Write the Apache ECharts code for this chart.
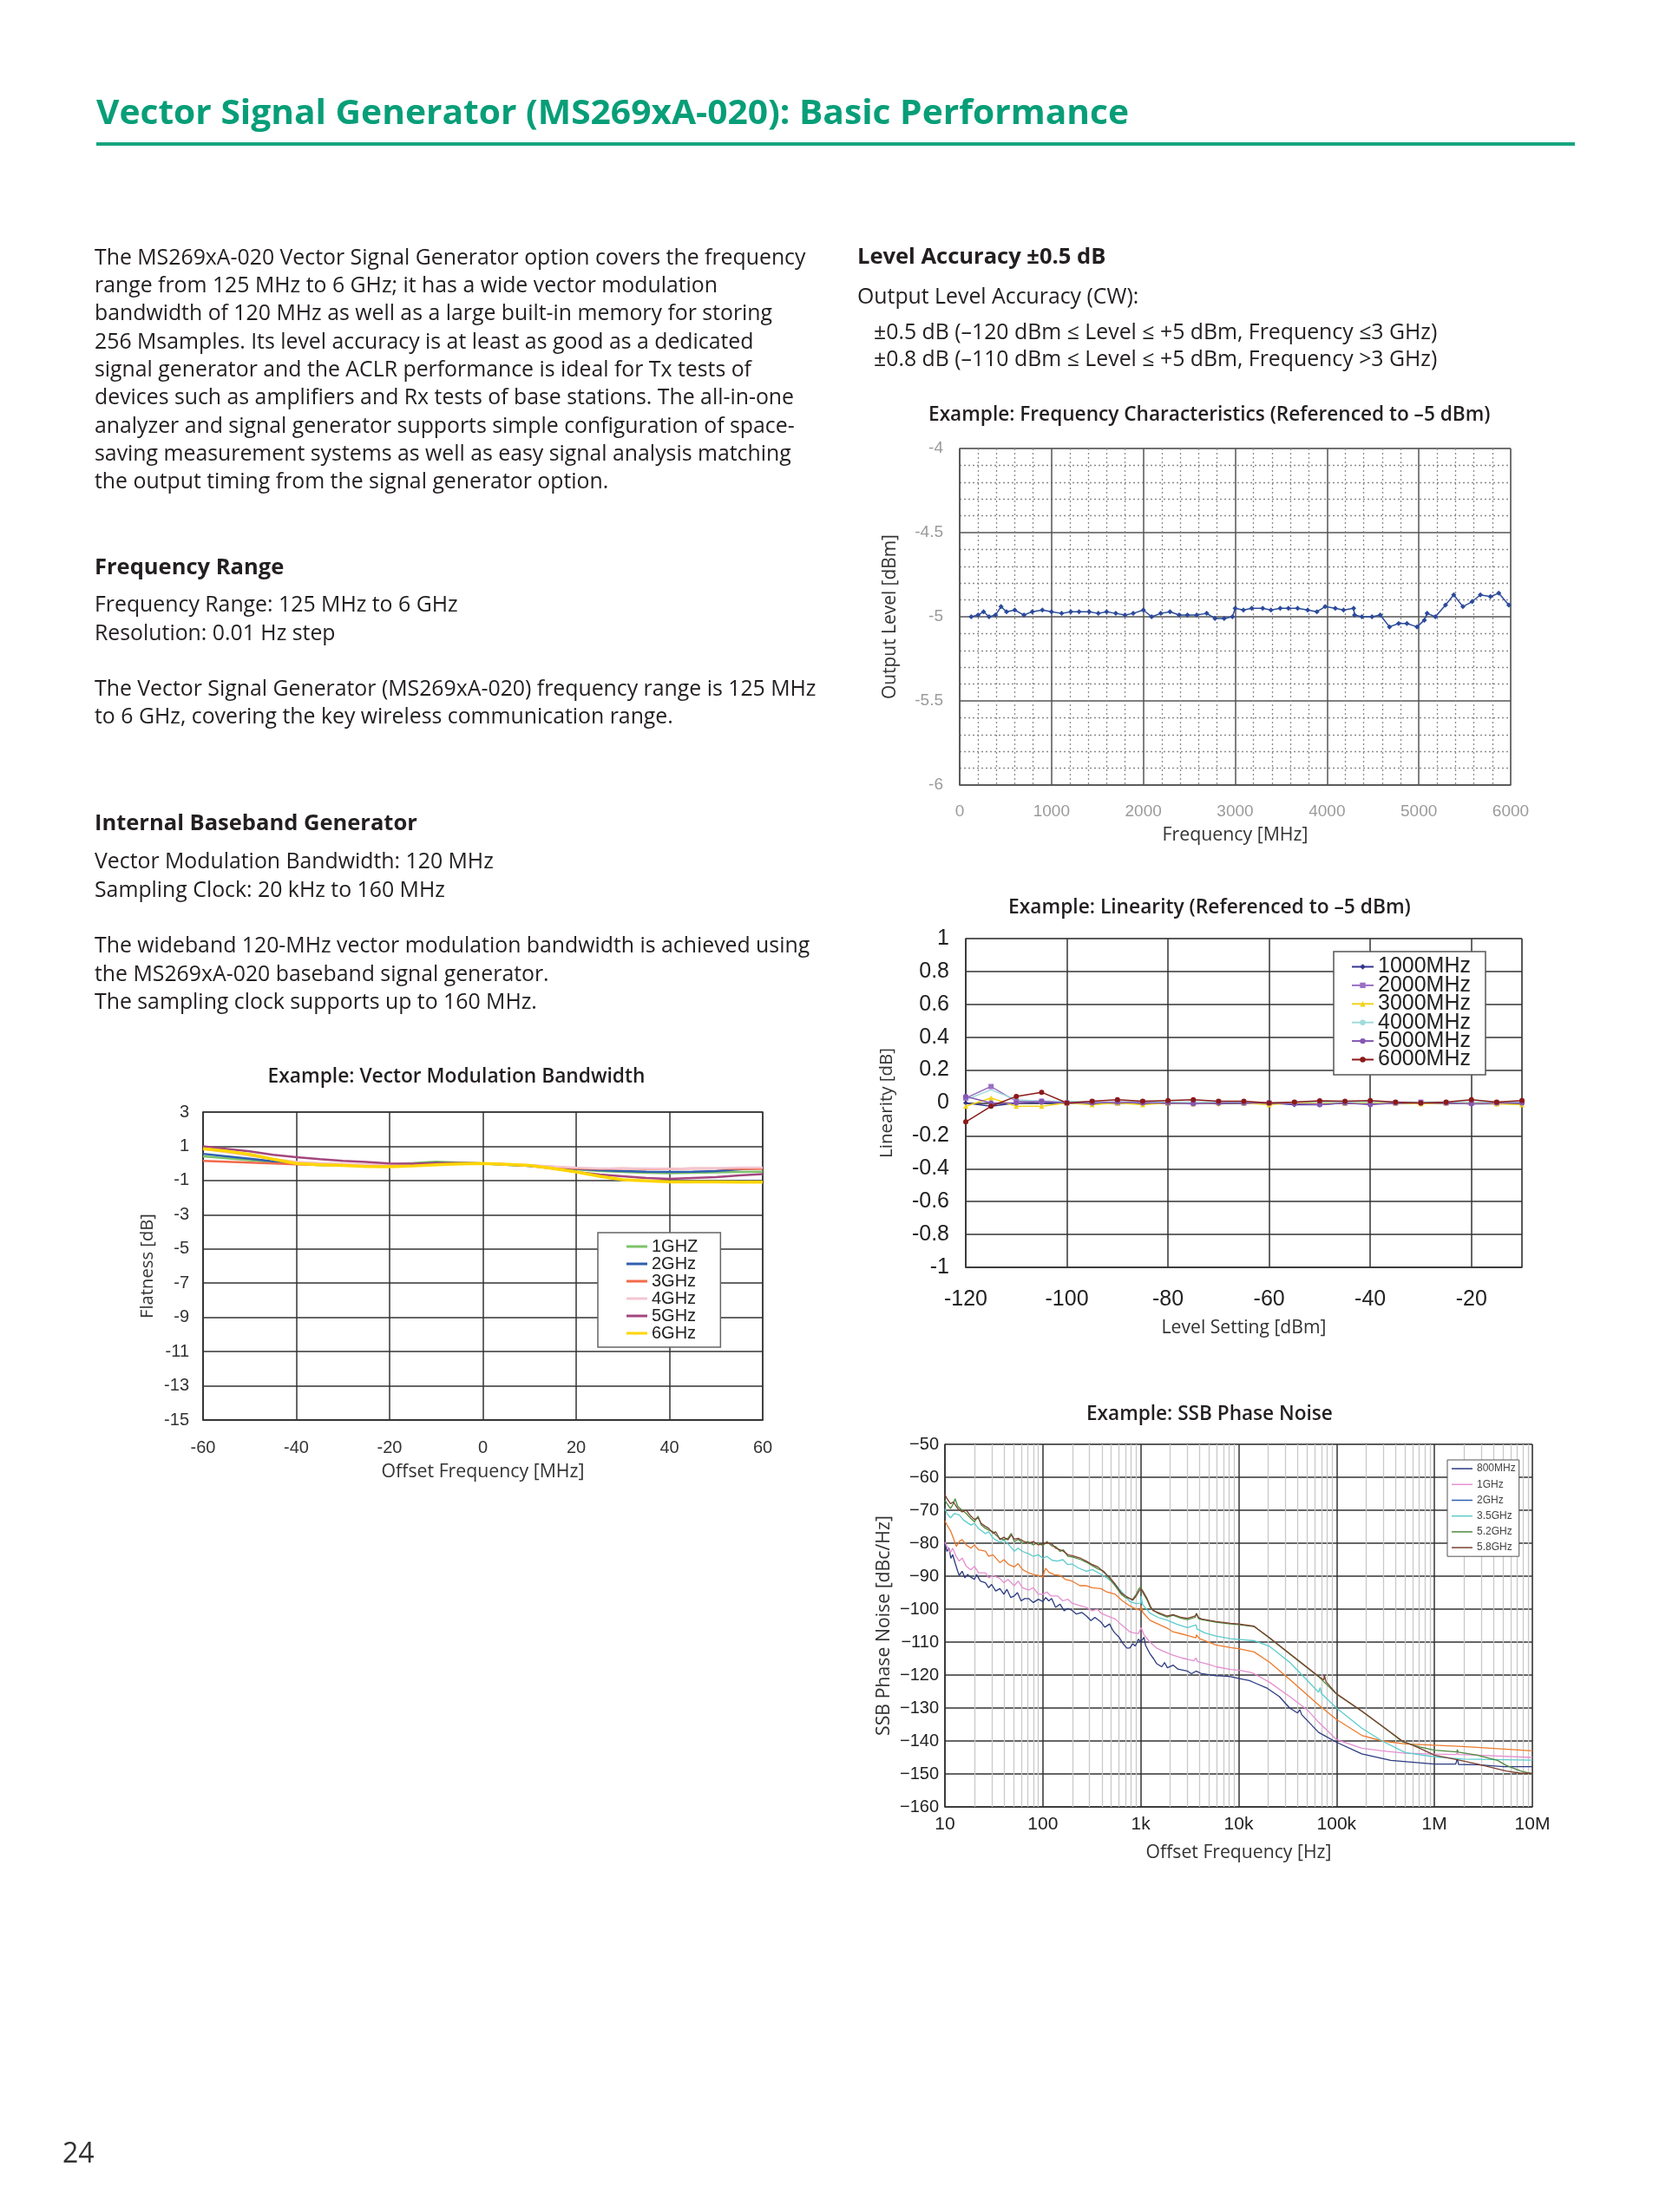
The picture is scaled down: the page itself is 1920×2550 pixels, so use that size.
<!DOCTYPE html>
<html><head><meta charset="utf-8">
<script src="https://cdn.jsdelivr.net/npm/echarts@6/dist/echarts.min.js"></script>
<style>
html,body{margin:0;padding:0;background:#fff;}
#page{position:relative;width:1920px;height:2550px;overflow:hidden;background:#fff;}
#chart{position:absolute;left:0;top:0;width:1920px;height:2550px;}
.t{position:absolute;white-space:nowrap;font-family:'Open Sans',sans-serif;color:#231f20;}
</style></head><body>
<div id="page"><div id="chart"></div><div id="text"></div></div>
<script>
// ---------------- DATA ----------------
// Frequency characteristics (MHz, dBm)
const freqX = [125,200,260,320,390,450,510,600,700,790,900,1000,1110,1210,1300,1410,1510,1600,1700,1800,1890,2000,2090,2190,2290,2390,2480,2580,2690,2780,2880,2970,3000,3090,3180,3300,3390,3490,3580,3680,3790,3890,3980,4090,4180,4290,4300,4380,4490,4580,4680,4780,4870,4980,5060,5090,5180,5290,5380,5480,5580,5670,5780,5870,5980];
const freqY = [-5.00,-4.99,-4.97,-5.00,-4.99,-4.94,-4.97,-4.96,-4.99,-4.97,-4.96,-4.97,-4.98,-4.97,-4.97,-4.97,-4.98,-4.97,-4.98,-4.99,-4.98,-4.96,-5.00,-4.98,-4.97,-4.99,-4.99,-4.99,-4.98,-5.01,-5.01,-5.00,-4.95,-4.96,-4.95,-4.95,-4.96,-4.95,-4.95,-4.95,-4.96,-4.97,-4.94,-4.95,-4.96,-4.95,-4.99,-5.00,-5.00,-4.99,-5.06,-5.04,-5.04,-5.06,-5.02,-4.98,-5.00,-4.93,-4.87,-4.94,-4.91,-4.87,-4.88,-4.86,-4.93];

// Linearity (dBm, dB)
const linX = [-120,-115,-110,-105,-100,-95,-90,-85,-80,-75,-70,-65,-60,-55,-50,-45,-40,-35,-30,-25,-20,-15,-10];
const linNames = ['1000MHz','2000MHz','3000MHz','4000MHz','5000MHz','6000MHz'];
const lin1000 = [0,-0.02,0,0,0,-0.005,0.005,-0.005,0,0,-0.005,0,0,-0.01,-0.01,0,-0.005,0,0,0,-0.005,-0.005,0];
const lin2000 = [0.03,0.10,0.01,0.01,0,0.005,0,0.005,0,0,0.005,0,0,0,-0.005,0,0,0,0.005,0,0,0,0.005];
const lin3000 = [-0.02,0.03,-0.02,-0.02,0,-0.01,0,-0.01,0,-0.005,0,0,-0.01,0,0,0,0,0,-0.005,0,0,-0.005,-0.01];
const lin4000 = [0.02,0.08,0.02,0.01,0.01,0.005,0.005,0.01,0.005,0.005,0.005,0.005,0,0.005,0.005,0.005,0.005,0.005,0.005,0.005,0.005,0.005,0.005];
const lin5000 = [0.04,0.0,0.0,0.01,0,0,0.005,0,0,-0.005,0,0,0,-0.005,-0.01,0,-0.01,0,0,0,-0.005,0,0];
const lin6000 = [-0.115,-0.02,0.04,0.065,0,0.01,0.02,0.01,0.015,0.02,0.01,0.01,0,0.005,0.013,0.01,0.015,0.005,0,0.005,0.02,0.005,0.015];

// Vector modulation bandwidth (MHz, dB)
const vecX = [-60,-55,-50,-45,-40,-35,-30,-25,-20,-15,-10,-5,0,5,10,15,20,25,30,35,40,45,50,55,60];
const vecNames = ['1GHZ','2GHz','3GHz','4GHz','5GHz','6GHz'];
const vec1 = [0.41,0.30,0.19,0.08,-0.02,-0.10,-0.12,-0.10,-0.05,0.02,0.10,0.05,0,-0.08,-0.15,-0.25,-0.35,-0.45,-0.50,-0.55,-0.57,-0.55,-0.52,-0.50,-0.48];
const vec2 = [0.56,0.42,0.27,0.12,-0.02,-0.08,-0.10,-0.10,-0.08,-0.02,0.02,0.02,0,-0.08,-0.15,-0.25,-0.32,-0.40,-0.45,-0.48,-0.50,-0.48,-0.45,-0.35,-0.27];
const vec3 = [0.15,0.10,0.05,0.00,-0.05,-0.08,-0.07,-0.08,-0.10,-0.05,0.00,0.02,0,-0.05,-0.12,-0.20,-0.30,-0.32,-0.30,-0.32,-0.32,-0.30,-0.30,-0.32,-0.32];
const vec4 = [0.86,0.65,0.45,0.25,0.10,0.02,-0.02,-0.05,-0.05,-0.02,0,0,0,-0.05,-0.10,-0.18,-0.25,-0.30,-0.30,-0.30,-0.32,-0.30,-0.28,-0.25,-0.25];
const vec5 = [1.00,0.85,0.70,0.50,0.36,0.25,0.15,0.08,0.00,-0.02,0.02,0.00,0,-0.05,-0.15,-0.30,-0.50,-0.65,-0.75,-0.85,-0.90,-0.85,-0.80,-0.70,-0.63];
const vec6 = [0.86,0.72,0.53,0.25,0.00,-0.08,-0.12,-0.18,-0.20,-0.15,-0.08,-0.03,0,-0.05,-0.12,-0.30,-0.50,-0.75,-0.95,-1.02,-1.08,-1.08,-1.08,-1.10,-1.10];

// SSB phase noise ([Hz, dBc/Hz])
const pnNames = ['800MHz','1GHz','2GHz','3.5GHz','5.2GHz','5.8GHz'];
const pnTickLabels = ['10','100','1k','10k','100k','1M','10M'];
const pn800 = [[10,-80],[10.5,-82.5],[11,-81.5],[11.5,-84.6],[12,-83.5],[12.7,-86],[13.5,-88.5],[14,-89.8],[15,-88.5],[16,-90.5],[17,-89.5],[18.4,-90.3],[20,-91],[21,-89.5],[23,-91.5],[25.9,-92],[28,-93.5],[30,-92.5],[33,-94.5],[36.4,-93.8],[40,-95.5],[43,-94],[47,-96.5],[51,-96],[55,-95],[60,-97.5],[65,-96.8],[71.6,-96.8],[80,-98],[90,-97],[100,-97.7],[107,-96.5],[115,-97.5],[123,-96.8],[135,-99.5],[150,-98.5],[165,-100.5],[180,-99.8],[199,-100.4],[220,-101.5],[250,-101],[279,-102.1],[310,-103.5],[340,-102.5],[392,-103.9],[430,-105.5],[480,-104.5],[520,-106.5],[550,-107.4],[600,-108.5],[660,-110.5],[720,-111.8],[773,-111.8],[830,-110.5],[880,-111.2],[949,-109.1],[1000,-110],[1080,-108.5],[1120,-111],[1240,-113.5],[1350,-115],[1450,-116.5],[1640,-117.5],[1750,-116.2],[1870,-117.8],[2140,-117],[2400,-118.2],[2700,-118.5],[3000,-118.8],[3300,-119.6],[3670,-118.8],[4200,-119.6],[5000,-119.9],[5900,-120.2],[7000,-120.3],[8300,-120.5],[10000,-121],[12900,-121.7],[14400,-122.3],[19300,-123.9],[26000,-126.5],[33200,-130],[40000,-131.5],[42200,-130.5],[44000,-132],[65600,-137.4],[100000,-140.4],[181000,-143.9],[358000,-145.9],[1000000,-147],[1650000,-147],[1710000,-145.3],[1760000,-147.1],[2750000,-147.2],[5100000,-147.8],[10000000,-147.8]];
const pn1G = [[10,-79.7],[10.5,-81],[11.4,-82.8],[12,-81.5],[13,-84],[14,-85.4],[15,-84.5],[16.5,-87],[18.4,-88.1],[20,-87],[22,-89],[25.9,-89],[28,-90.5],[31,-89.8],[36.4,-90.7],[40,-92],[44,-91],[51,-92.9],[56,-91.5],[62,-93.5],[71.6,-94.2],[80,-93.5],[90,-95.5],[100,-95.5],[110,-94.8],[120,-96],[141,-96],[160,-97.5],[180,-97],[199,-98.2],[230,-98.8],[279,-99.5],[320,-100.5],[360,-100],[392,-101.2],[450,-102],[550,-103],[620,-104.5],[700,-105.8],[773,-106.9],[850,-107.2],[949,-107.4],[1010,-105.6],[1080,-107.8],[1240,-110],[1450,-111.8],[1700,-112.8],[2140,-114],[2600,-114.8],[3000,-115.2],[3500,-115.7],[3670,-114.8],[3800,-115.9],[5000,-116.8],[5900,-117.5],[8300,-118.3],[10000,-118.5],[12900,-119.1],[14400,-119.6],[20700,-122.2],[33200,-126.5],[50000,-130.5],[65600,-134.3],[100000,-139.6],[181000,-142.2],[292000,-143],[503000,-143.7],[1000000,-144],[1680000,-144.1],[1710000,-143.4],[1750000,-144.1],[2750000,-144.3],[10000000,-145]];
const pn2G = [[10,-73.2],[10.5,-74.5],[11.4,-76.2],[12.2,-78.5],[13.1,-81],[14,-79.5],[15,-78.9],[16.5,-80.5],[18.4,-81.5],[20,-80.5],[22,-82],[25.9,-82.4],[28,-84],[31,-83.5],[36.4,-85.9],[40,-85],[45,-86.5],[51.1,-87.2],[56,-86.2],[62,-88],[71.6,-89],[80,-89.5],[90,-89.8],[100,-90.3],[104,-88.5],[107,-87.6],[115,-88.8],[130,-89.5],[150,-89.8],[170,-91],[199,-91.5],[240,-92.9],[279,-92.9],[320,-93.5],[392,-93.8],[450,-94.8],[550,-95.5],[650,-97.5],[773,-99],[870,-99.8],[1000,-100.4],[1010,-99],[1050,-101],[1240,-103.4],[1500,-104.5],[1870,-105.8],[2140,-106.9],[2600,-107.5],[3000,-108],[3670,-108.7],[3700,-107.8],[4000,-109],[5900,-110.9],[8300,-111.7],[10000,-112],[14400,-113],[20700,-116.1],[33200,-121.3],[65600,-129.1],[100000,-133.5],[181000,-138.3],[292000,-140],[503000,-140.9],[1000000,-141.3],[1960000,-141.7],[10000000,-143]];
const pn35G = [[10,-69.6],[10.5,-71],[11.4,-72.3],[12.5,-71],[14,-71.4],[15.5,-73],[18.4,-74.5],[20,-74],[22,-75.5],[25.9,-77.1],[28,-76.5],[31,-78.5],[36.4,-79.7],[40,-79],[45,-80.5],[51.1,-82.4],[56,-81.5],[62,-82.5],[71.6,-83.2],[80,-84],[90,-83.5],[100,-84.6],[110,-84],[125,-85.2],[141,-85.4],[160,-85],[180,-86.5],[199,-86.3],[230,-87.5],[279,-88.5],[320,-88],[392,-89.4],[450,-90.5],[550,-92.5],[650,-95],[773,-97.7],[900,-98.3],[1000,-98.2],[1010,-96],[1040,-98.5],[1240,-101.2],[1500,-102.5],[1870,-103.4],[2300,-104.5],[3000,-105.6],[3670,-104.8],[3750,-106],[4500,-107.2],[5900,-108.2],[8300,-109],[10000,-109.2],[14400,-109.6],[20700,-111.3],[33200,-116.1],[60000,-124],[65600,-125.2],[68000,-123.8],[70000,-125.6],[100000,-130],[181000,-136.1],[292000,-140],[503000,-143.5],[1000000,-144.8],[1960000,-145.5],[10000000,-145.8]];
const pn52G = [[10,-67],[10.5,-68],[11.4,-69.5],[12.2,-68],[12.7,-66.5],[13.5,-68.8],[15,-70],[16.5,-71],[18.4,-72.5],[20,-73.5],[21.8,-71.8],[23.5,-74.5],[25.9,-75.5],[28,-76],[31,-76.5],[33,-77.5],[36.4,-78.5],[40,-79],[44,-78.5],[47.7,-77],[51,-79.5],[56,-78.8],[62.6,-80],[70,-79.5],[80,-80.5],[90,-79.8],[100,-80.8],[110,-79.5],[123,-80.8],[135,-81],[150,-82.5],[162,-82],[180,-84],[200,-84.2],[244,-85],[280,-85.8],[320,-86.8],[366,-87.8],[420,-88.5],[480,-90.8],[550,-93],[632,-95.5],[700,-96.5],[826,-97],[900,-95.5],[949,-94],[1000,-93.2],[1050,-95],[1160,-97.2],[1250,-99.5],[1330,-100.2],[1500,-101.3],[1860,-102.4],[2140,-101.9],[2600,-102.8],[3000,-103.2],[3600,-102.5],[3700,-101.2],[3900,-102.9],[4200,-103.2],[5900,-104],[8300,-104.5],[10000,-104.7],[14400,-105.3],[15800,-106.2],[20700,-108.8],[33200,-113.6],[65600,-120.5],[100000,-125.8],[181000,-131],[313000,-136.2],[470000,-140.2],[706000,-141.8],[1000000,-142.8],[1700000,-143.3],[1710000,-142.6],[1750000,-143.4],[2750000,-144.3],[4400000,-145.9],[5400000,-147.4],[7600000,-149.1],[10000000,-150]];
const pn58G = [[10,-65.3],[10.5,-66.5],[11.4,-68],[12.2,-67.5],[12.7,-67],[13.5,-69.5],[15,-70.5],[16.5,-70],[18.4,-71.8],[20,-72.8],[21.8,-72.3],[23.5,-74],[25.9,-74.9],[28,-75.5],[31,-77],[33,-76.5],[36.4,-78.9],[40,-78.2],[44,-79],[47.7,-77.5],[51,-78.8],[56,-78.5],[62.6,-79.3],[70,-80],[80,-79.5],[90,-80.5],[100,-80.2],[110,-79.8],[123,-80.2],[135,-81.5],[150,-82],[162,-82.4],[180,-83.5],[200,-83.8],[244,-84.6],[280,-85.5],[320,-86.5],[366,-87.2],[420,-88.8],[480,-90.3],[550,-92.5],[632,-95.1],[700,-96],[826,-97.3],[900,-96],[949,-94.8],[1000,-93.8],[1050,-94.5],[1160,-96.8],[1250,-99],[1330,-100.4],[1500,-101],[1860,-102.1],[2140,-101.7],[2600,-102.5],[3000,-102.8],[3600,-102.1],[3700,-101.5],[3900,-102.6],[4200,-103],[5900,-103.8],[8300,-104.3],[10000,-104.5],[14400,-105.2],[15800,-106.1],[20700,-108.7],[33200,-113.5],[65600,-120.4],[74000,-121.5],[75000,-120],[78000,-122],[100000,-125.7],[181000,-130.9],[313000,-136.1],[470000,-140],[706000,-142.2],[1000000,-144.3],[1710000,-145.7],[2750000,-147],[5400000,-149.1],[7600000,-149.8],[10000000,-149.8]];

// ---------------- TEXT ----------------
const cv = document.createElement('canvas').getContext('2d');
function measure(text, weight, family, size){ cv.font = weight + ' ' + size + 'px "' + family + '"'; return cv.measureText(text).width; }
function fit(text, weight, family, target){ return 100 * target / measure(text, weight, family, 100); }

const textLines = [
 ['p',109,296.5,'The MS269xA-020 Vector Signal Generator option covers the frequency'],
 ['p',109,328.8,'range from 125 MHz to 6 GHz; it has a wide vector modulation'],
 ['p',109,361.1,'bandwidth of 120 MHz as well as a large built-in memory for storing'],
 ['p',109,393.4,'256 Msamples. Its level accuracy is at least as good as a dedicated'],
 ['p',109,425.7,'signal generator and the ACLR performance is ideal for Tx tests of'],
 ['p',109,458.0,'devices such as amplifiers and Rx tests of base stations. The all-in-one'],
 ['p',109,490.3,'analyzer and signal generator supports simple configuration of space-'],
 ['p',109,522.6,'saving measurement systems as well as easy signal analysis matching'],
 ['p',109,554.9,'the output timing from the signal generator option.'],
 ['h',109,653.3,'Frequency Range'],
 ['p',109,696.9,'Frequency Range: 125 MHz to 6 GHz'],
 ['p',109,729.3,'Resolution: 0.01 Hz step'],
 ['p',109,794.2,'The Vector Signal Generator (MS269xA-020) frequency range is 125 MHz'],
 ['p',109,826.0,'to 6 GHz, covering the key wireless communication range.'],
 ['h',109,948.7,'Internal Baseband Generator'],
 ['p',109,993.0,'Vector Modulation Bandwidth: 120 MHz'],
 ['p',109,1025.3,'Sampling Clock: 20 kHz to 160 MHz'],
 ['p',109,1090.2,'The wideband 120-MHz vector modulation bandwidth is achieved using'],
 ['p',109,1122.6,'the MS269xA-020 baseband signal generator.'],
 ['p',109,1155.0,'The sampling clock supports up to 160 MHz.'],
 ['h',988,296.0,'Level Accuracy ±0.5 dB'],
 ['p',988,341.7,'Output Level Accuracy (CW):'],
 ['p',1007,382.5,'±0.5 dB (–120 dBm ≤ Level ≤ +5 dBm, Frequency ≤3 GHz)'],
 ['p',1007,413.7,'±0.8 dB (–110 dBm ≤ Level ≤ +5 dBm, Frequency >3 GHz)']
];
const pageTitle = 'Vector Signal Generator (MS269xA-020): Basic Performance';

(function buildText(){
  const host = document.getElementById('text');
  const pSize = fit(textLines[0][3], 400, 'Open Sans', 820);
  const hSize = fit('Internal Baseband Generator', 700, 'Open Sans', 372);
  const LH = 32;
  textLines.forEach(function(l){
    const d = document.createElement('div');
    d.className = 't';
    const fs = l[0] === 'h' ? hSize : pSize;
    d.style.fontSize = fs + 'px';
    d.style.fontWeight = l[0] === 'h' ? '700' : '400';
    d.style.lineHeight = LH + 'px';
    d.style.left = l[1] + 'px';
    d.style.top = (l[2] - LH / 2 - 0.07 * fs) + 'px';
    d.textContent = l[3];
    host.appendChild(d);
  });
  // page title
  const t = document.createElement('div');
  t.className = 't';
  t.style.fontSize = '40px'; t.style.fontWeight = '700'; t.style.lineHeight = '40px';
  t.style.color = '#079e78'; t.style.left = '111px'; t.style.top = '108px';
  const sx = 1190 / measure(pageTitle, 700, 'Open Sans', 40);
  t.style.transform = 'scaleX(' + sx + ')'; t.style.transformOrigin = '0 0';
  t.textContent = pageTitle; host.appendChild(t);
  const rule = document.createElement('div');
  rule.style.cssText = 'position:absolute;left:111px;top:164px;width:1704px;height:4px;background:#17a57f;';
  host.appendChild(rule);
  const pg = document.createElement('div');
  pg.className = 't'; pg.style.fontSize = '32px'; pg.style.lineHeight = '40px';
  pg.style.left = '72px'; pg.style.top = '2461px'; pg.style.color = '#333';
  pg.textContent = '24'; host.appendChild(pg);
})();

// ---------------- CHART ----------------
const chart = echarts.init(document.getElementById('chart'), null, {renderer: 'canvas'});

function mkTitle(text, cx, cy, w){
  const fs = fit(text, 600, 'Open Sans', w);
  return {text: text, left: cx - w / 2, top: cy - fs / 2, padding: 0,
    textStyle: {fontFamily: 'Open Sans', fontWeight: 600, fontSize: fs, color: '#231f20'}};
}
function nameStyle(text, target){
  return {fontFamily: 'Open Sans', fontSize: fit(text, 400, 'Open Sans', target), color: '#333'};
}
const pnMinor = [];
for (let d = 10; d < 1e7; d *= 10) for (let m = 2; m <= 9; m++) pnMinor.push(d * m);
function num(v){ return Math.abs(v - Math.round(v)) < 1e-9 ? String(Math.round(v)) : (+v.toFixed(1)).toString(); }
function plain(v){ return String(v); }

const lblArial = function(size, color, margin){ return {fontFamily: 'Liberation Sans', fontSize: size, color: color, margin: margin}; };

const option = {
  animation: false,
  title: [
    mkTitle('Example: Frequency Characteristics (Referenced to –5 dBm)', 1394, 478, 648),
    mkTitle('Example: Linearity (Referenced to –5 dBm)', 1394, 1046, 464),
    mkTitle('Example: Vector Modulation Bandwidth', 526, 1241, 435),
    mkTitle('Example: SSB Phase Noise', 1394, 1630, 284)
  ],
  grid: [
    {left: 1106, top: 517, width: 635, height: 388, show: true, borderColor: '#8a8a8a', borderWidth: 1, backgroundColor: '#fff', outerBoundsMode: 'none'},
    {left: 1113, top: 1082, width: 641, height: 379, show: true, borderColor: '#999', borderWidth: 1, backgroundColor: '#fff', outerBoundsMode: 'none'},
    {left: 234, top: 1282, width: 645, height: 355, show: true, borderColor: '#444', borderWidth: 1.5, backgroundColor: '#fff', outerBoundsMode: 'none'},
    {left: 1089, top: 1665, width: 677, height: 418, show: true, borderColor: '#aaa', borderWidth: 1, backgroundColor: '#fff', outerBoundsMode: 'none'}
  ],
  xAxis: [
    {type: 'value', gridIndex: 0, min: 0, max: 6000, interval: 1000,
     axisLine: {onZero: false, lineStyle: {color: '#555', width: 1.5}}, axisTick: {show: false},
     axisLabel: Object.assign(lblArial(19, '#9a9a9a', 21), {formatter: plain}),
     splitLine: {show: true, lineStyle: {color: '#555', width: 1.5}},
     minorTick: {show: false, splitNumber: 5},
     minorSplitLine: {show: true, lineStyle: {color: '#8a8a8a', width: 1.3, type: [2, 3]}},
     name: 'Frequency [MHz]', nameLocation: 'middle', nameGap: 47, nameTextStyle: nameStyle('Frequency [MHz]', 168)},
    {type: 'value', gridIndex: 1, min: -120, max: -10, interval: 20,
     axisLine: {onZero: false, lineStyle: {color: '#333', width: 1.5}}, axisTick: {show: false},
     axisLabel: Object.assign(lblArial(25, '#222', 25), {showMaxLabel: false, formatter: plain}),
     splitLine: {show: true, lineStyle: {color: '#333', width: 1.5}},
     name: 'Level Setting [dBm]', nameLocation: 'middle', nameGap: 59, nameTextStyle: nameStyle('Level Setting [dBm]', 190)},
    {type: 'value', gridIndex: 2, min: -60, max: 60, interval: 20,
     axisLine: {onZero: false, lineStyle: {color: '#333', width: 1.5}}, axisTick: {show: false},
     axisLabel: Object.assign(lblArial(20, '#333', 22), {formatter: plain}),
     splitLine: {show: true, lineStyle: {color: '#333', width: 1.5}},
     name: 'Offset Frequency [MHz]', nameLocation: 'middle', nameGap: 49, nameTextStyle: nameStyle('Offset Frequency [MHz]', 234)},
    {type: 'log', gridIndex: 3, logBase: 10, min: 10, max: 10000000, splitNumber: 6,
     axisLine: {onZero: false, lineStyle: {color: '#333', width: 1.5}}, axisTick: {show: false},
     axisLabel: Object.assign(lblArial(21, '#222', 10), {formatter: function(v){ return pnTickLabels[Math.round(Math.log10(v)) - 1]; }}),
     splitLine: {show: true, lineStyle: {color: '#333', width: 1.5}},
     name: 'Offset Frequency [Hz]', nameLocation: 'middle', nameGap: 42, nameTextStyle: nameStyle('Offset Frequency [Hz]', 214)}
  ],
  yAxis: [
    {type: 'value', gridIndex: 0, min: -6, max: -4, interval: 0.5,
     axisLine: {onZero: false, lineStyle: {color: '#555', width: 1.5}}, axisTick: {show: false},
     axisLabel: Object.assign(lblArial(19, '#9a9a9a', 19), {formatter: num}),
     splitLine: {show: true, lineStyle: {color: '#555', width: 1.5}},
     minorTick: {show: false, splitNumber: 5},
     minorSplitLine: {show: true, lineStyle: {color: '#8a8a8a', width: 1.3, type: [2, 3]}},
     name: 'Output Level [dBm]', nameLocation: 'middle', nameRotate: 90, nameGap: 69, nameTextStyle: nameStyle('Output Level [dBm]', 190)},
    {type: 'value', gridIndex: 1, min: -1, max: 1, interval: 0.2,
     axisLine: {onZero: false, lineStyle: {color: '#333', width: 1.5}}, axisTick: {show: false},
     axisLabel: Object.assign(lblArial(25, '#222', 19), {formatter: num}),
     splitLine: {show: true, lineStyle: {color: '#333', width: 1.5}},
     name: 'Linearity [dB]', nameLocation: 'middle', nameRotate: 90, nameGap: 81, nameTextStyle: nameStyle('Linearity [dB]', 127)},
    {type: 'value', gridIndex: 2, min: -15, max: 3, interval: 2,
     axisLine: {onZero: false, lineStyle: {color: '#333', width: 1.5}}, axisTick: {show: false},
     axisLabel: lblArial(20, '#333', 16),
     splitLine: {show: true, lineStyle: {color: '#333', width: 1.5}},
     name: 'Flatness [dB]', nameLocation: 'middle', nameRotate: 90, nameGap: 54, nameTextStyle: nameStyle('Flatness [dB]', 121)},
    {type: 'value', gridIndex: 3, min: -160, max: -50, interval: 10,
     axisLine: {onZero: false, lineStyle: {color: '#333', width: 1.5}}, axisTick: {show: false},
     axisLabel: Object.assign(lblArial(20, '#222', 7), {formatter: function(v){ return (v < 0 ? '\u2212' : '') + Math.abs(v); }}),
     splitLine: {show: true, lineStyle: {color: '#333', width: 1.5}},
     name: 'SSB Phase Noise [dBc/Hz]', nameLocation: 'middle', nameRotate: 90, nameGap: 60, nameTextStyle: nameStyle('SSB Phase Noise [dBc/Hz]', 254)}
  ],
  legend: [
    {data: linNames, orient: 'vertical', left: 1537, top: 1097, padding: [5, 17, 5, 20], itemWidth: 25, itemHeight: 8, itemGap: -3.6,
     selectedMode: false, backgroundColor: '#fff', borderColor: '#555', borderWidth: 1.5,
     textStyle: {fontFamily: 'Liberation Sans', fontSize: 25, color: '#222', lineHeight: 21.4}},
    {data: vecNames, orient: 'vertical', left: 689, top: 1421, padding: [6, 26, 6, 33], itemWidth: 24, itemHeight: 3, itemGap: 0, icon: 'rect',
     selectedMode: false, backgroundColor: '#fff', borderColor: '#666', borderWidth: 1.5,
     textStyle: {fontFamily: 'Liberation Sans', fontSize: 20, color: '#222', lineHeight: 19.7}},
    {data: pnNames, orient: 'vertical', left: 1668, top: 1683, padding: [1, 4, 1, 5], itemWidth: 24, itemHeight: 1.5, itemGap: 0, icon: 'rect',
     selectedMode: false, backgroundColor: '#fff', borderColor: '#555', borderWidth: 1,
     textStyle: {fontFamily: 'Liberation Sans', fontSize: 12, color: '#444', lineHeight: 18.2}}
  ],
  series: []
};

function pairs(xs, ys){ return xs.map(function(x, i){ return [x, ys[i]]; }); }

option.series.push({type: 'line', name: 'freq', xAxisIndex: 0, yAxisIndex: 0, data: pairs(freqX, freqY),
  symbol: 'diamond', symbolSize: 6, itemStyle: {color: '#2b4a9b'}, lineStyle: {color: '#2b4a9b', width: 1.5}});

const linSeries = [lin1000, lin2000, lin3000, lin4000, lin5000, lin6000];
const linColors = ['#34348f', '#9b6fc4', '#f2d31b', '#9fdcdc', '#8557b3', '#8b1a1a'];
const linSymbols = ['diamond', 'rect', 'triangle', 'none', 'circle', 'circle'];
linSeries.forEach(function(s, i){
  option.series.push({type: 'line', name: linNames[i], xAxisIndex: 1, yAxisIndex: 1, data: pairs(linX, s),
    symbol: linSymbols[i], symbolSize: 6, itemStyle: {color: linColors[i]}, lineStyle: {color: linColors[i], width: 1.5}});
});

const vecSeries = [vec1, vec2, vec3, vec4, vec5, vec6];
const vecColors = ['#7cc36a', '#2e5fae', '#f26a4b', '#f4c6d2', '#a3467e', '#ffd500'];
vecSeries.forEach(function(s, i){
  option.series.push({type: 'line', name: vecNames[i], xAxisIndex: 2, yAxisIndex: 2, data: pairs(vecX, s),
    symbol: 'none', itemStyle: {color: vecColors[i]}, lineStyle: {color: vecColors[i], width: i === 5 ? 3.5 : 2.5}});
});

option.series.push({type: 'line', name: '_minor', xAxisIndex: 3, yAxisIndex: 3, data: [], silent: true,
  markLine: {silent: true, z: 1, symbol: ['none', 'none'], label: {show: false}, animation: false,
    lineStyle: {color: '#c9c9c9', width: 1.3, type: 'solid'}, emphasis: {disabled: true},
    data: pnMinor.map(function(f){ return {xAxis: f}; })}});

const pnSeries = [pn800, pn1G, pn2G, pn35G, pn52G, pn58G];
const pnColors = ['#2b3a80', '#e58fd0', '#ec7a2c', '#5ccccc', '#4e8a3e', '#7b4030'];
pnSeries.forEach(function(s, i){
  option.series.push({type: 'line', name: pnNames[i], xAxisIndex: 3, yAxisIndex: 3, data: s,
    symbol: 'none', itemStyle: {color: pnColors[i]}, lineStyle: {color: pnColors[i], width: 1.3}});
});

chart.setOption(option);
</script>
</body></html>
